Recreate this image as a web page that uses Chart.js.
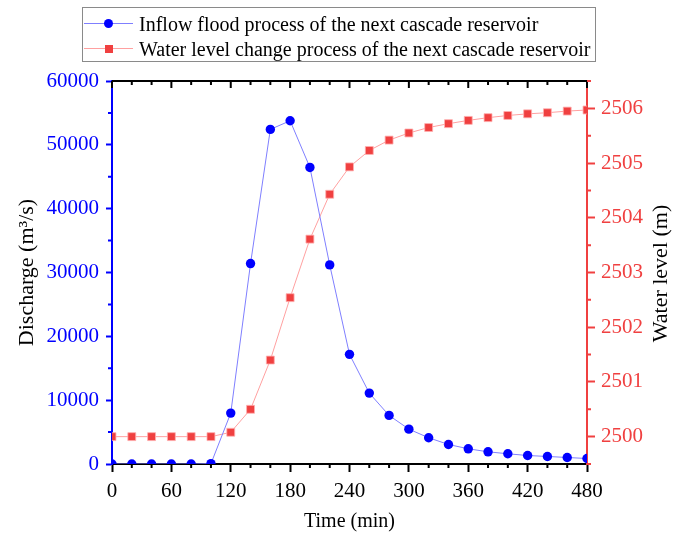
<!DOCTYPE html>
<html>
<head>
<meta charset="utf-8">
<script src="https://cdn.jsdelivr.net/npm/chart.js@4/dist/chart.umd.min.js"></script>
<style>
  html, body { margin: 0; padding: 0; background: #fff; }
  #wrap { position: relative; width: 678px; height: 534px; }
  #legend {
    position: absolute; left: 82px; top: 7px; width: 514px; height: 55px;
    border: 1px solid #8a8a8a; font-family: "Liberation Serif", serif; font-size: 20px;
    color: #000; box-sizing: border-box;
  }
  .row { position: absolute; left: 0; height: 24px; line-height: 24px; white-space: nowrap; }
  .sample { position: absolute; left: 1px; top: 11px; width: 49px; height: 1px; }
  .mark { position: absolute; }
  .txt { position: absolute; left: 56px; top: 0; }
</style>
</head>
<body>
<div id="wrap">
  <canvas id="chart" width="678" height="534"></canvas>
  <div id="legend">
    <div class="row" style="top:4px">
      <div class="sample" style="background:#7f7fff"></div>
      <div class="mark" style="left:21px;top:7px;width:9px;height:9px;border-radius:50%;background:#0000ff"></div>
      <span class="txt">Inflow flood process of the next cascade reservoir</span>
    </div>
    <div class="row" style="top:29px">
      <div class="sample" style="background:#ffa0a0"></div>
      <div class="mark" style="left:22px;top:8px;width:8px;height:8px;background:#f04040"></div>
      <span class="txt">Water level change process of the next cascade reservoir</span>
    </div>
  </div>
</div>
<script>
// time in minutes
const times = [0, 20, 40, 60, 80, 100, 120, 140, 160, 180, 200, 220, 240,
  260, 280, 300, 320, 340, 360, 380, 400, 420, 440, 460, 480];

// inflow discharge (m3/s)
const inflow = [0, 0, 0, 0, 0, 50, 7970, 31400, 52420, 53770, 46460, 31190, 17180,
  11110, 7610, 5460, 4110, 3060, 2380, 1910, 1600, 1330, 1180, 1020, 860];

// water level (m)
const level = [2500, 2500, 2500, 2500, 2500, 2500, 2500.08, 2500.5, 2501.4, 2502.54, 2503.61, 2504.43, 2504.93,
  2505.23, 2505.42, 2505.55, 2505.65, 2505.72, 2505.78, 2505.83, 2505.87, 2505.9, 2505.92, 2505.95, 2505.97];

// tick labels
const xTicks = [0, 60, 120, 180, 240, 300, 360, 420, 480];
const flowTicks = [0, 10000, 20000, 30000, 40000, 50000, 60000];
const levelTicks = [2500, 2501, 2502, 2503, 2504, 2505, 2506];

const FONT = "Liberation Serif";
const BLUE = "#0000ff";
const RED = "#f04040";

// minor ticks, top frame and right title
const frame = {
  id: "frame",
  afterDraw(c) {
    const ctx = c.ctx;
    const a = c.chartArea;
    const x = c.scales.x, y = c.scales.y, y2 = c.scales.y2;
    ctx.save();
    ctx.lineWidth = 2;

    // top border with inward ticks
    ctx.strokeStyle = "#000";
    ctx.beginPath();
    ctx.moveTo(a.left, a.top);
    ctx.lineTo(a.right, a.top);
    for (let t = 0; t <= 480; t += 20) {
      const px = x.getPixelForValue(t);
      const len = t % 60 === 0 ? 7 : 4;
      ctx.moveTo(px, a.top);
      ctx.lineTo(px, a.top + len);
      if (t % 60 !== 0) {
        ctx.moveTo(px, a.bottom);
        ctx.lineTo(px, a.bottom + 4);
      }
    }
    ctx.stroke();

    ctx.strokeStyle = BLUE;
    ctx.beginPath();
    for (let v = 5000; v < 60000; v += 10000) {
      const py = y.getPixelForValue(v);
      ctx.moveTo(a.left, py);
      ctx.lineTo(a.left - 4, py);
    }
    ctx.stroke();

    ctx.strokeStyle = RED;
    ctx.beginPath();
    for (let v = 2499.5; v <= 2506.5; v += 1) {
      const py = y2.getPixelForValue(v);
      ctx.moveTo(a.right, py);
      ctx.lineTo(a.right + 4, py);
    }
    ctx.stroke();

    ctx.fillStyle = "#000";
    ctx.font = "22px " + FONT;
    ctx.textAlign = "center";
    ctx.textBaseline = "middle";
    ctx.translate(661, (a.top + a.bottom) / 2 + 1);
    ctx.rotate(-Math.PI / 2);
    ctx.fillText("Water level (m)", 0, 0);
    ctx.restore();
  }
};

const setTicks = (list) => (s) => { s.ticks = list.map((v) => ({ value: v })); };

const ctx = document.getElementById("chart").getContext("2d");

const chart = new Chart(ctx, {
  type: "line",
  data: {
    datasets: [{
      label: "Inflow flood process of the next cascade reservoir",
      data: times.map((t, i) => ({ x: t, y: inflow[i] })),
      yAxisID: "y",
      borderColor: "#7f7fff",
      borderWidth: 1,
      pointStyle: "circle",
      pointRadius: 4.7,
      pointBackgroundColor: BLUE,
      pointBorderColor: BLUE,
      pointBorderWidth: 0,
      tension: 0
    }, {
      label: "Water level change process of the next cascade reservoir",
      data: times.map((t, i) => ({ x: t, y: level[i] })),
      yAxisID: "y2",
      borderColor: "#ffa0a0",
      borderWidth: 1,
      pointStyle: "rect",
      pointRadius: 5.6,
      pointBackgroundColor: RED,
      pointBorderColor: "#ffb0b0",
      pointBorderWidth: 0.8,
      tension: 0
    }]
  },
  options: {
    responsive: false,
    animation: false,
    layout: { padding: { top: 81, left: 0, right: 0, bottom: 0 } },
    plugins: {
      legend: { display: false },
      tooltip: { enabled: false }
    },
    scales: {
      x: {
        type: "linear",
        min: 0,
        max: 480,
        afterFit: (s) => { s.height = 70; },
        afterBuildTicks: setTicks(xTicks),
        ticks: { color: "#000", font: { family: FONT, size: 21 }, padding: 7, maxRotation: 0 },
        grid: { drawOnChartArea: false, tickLength: 8, tickColor: "#000", tickWidth: 2 },
        border: { color: "#000", width: 2 },
        title: { display: true, text: "Time (min)", color: "#000", font: { family: FONT, size: 20 }, padding: { top: 0, bottom: 0 } }
      },
      y: {
        position: "left",
        min: 0,
        max: 60000,
        afterFit: (s) => { s.width = 112; },
        afterBuildTicks: setTicks(flowTicks),
        ticks: { color: BLUE, font: { family: FONT, size: 21 }, padding: 7,
          callback: (v) => String(v) },
        grid: { drawOnChartArea: false, tickLength: 6, tickColor: BLUE, tickWidth: 2 },
        border: { color: BLUE, width: 2 },
        title: { display: true, text: "Discharge (m³/s)", color: "#000", font: { family: FONT, size: 22 }, padding: { top: 14, bottom: 0 } }
      },
      y2: {
        position: "right",
        min: 2499.5,
        max: 2506.5,
        afterFit: (s) => { s.width = 91; },
        afterBuildTicks: setTicks(levelTicks),
        ticks: { color: RED, font: { family: FONT, size: 21 }, padding: 6,
          callback: (v) => String(v) },
        grid: { drawOnChartArea: false, tickLength: 8, tickColor: RED, tickWidth: 2 },
        border: { color: RED, width: 2 }
      }
    }
  },
  plugins: [frame]
});
</script>
</body>
</html>
